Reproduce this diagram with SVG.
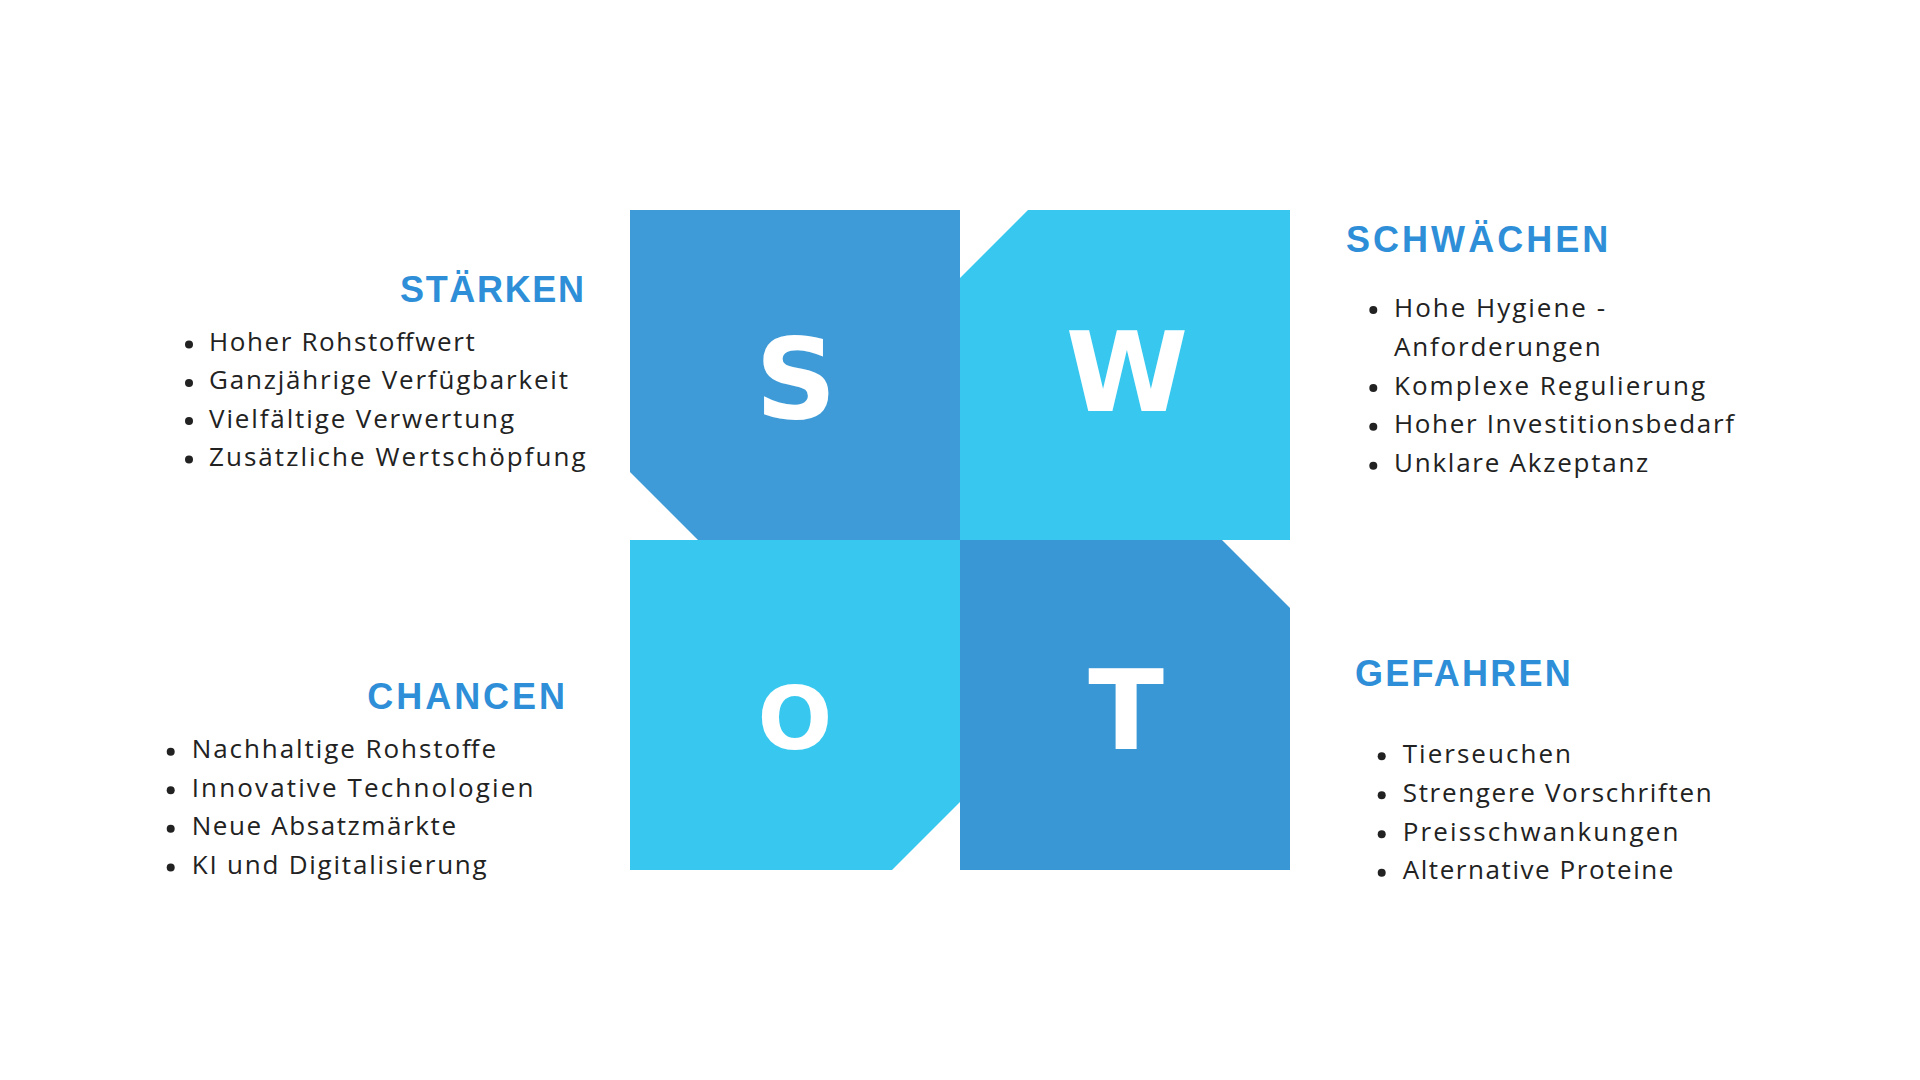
<svg xmlns="http://www.w3.org/2000/svg" width="1920" height="1080" viewBox="0 0 1920 1080">
<style>
.head{font-family:"Liberation Sans",Arial,sans-serif;font-weight:bold;font-size:36px;fill:#2E8FD8}
.item{font-family:"Open Sans","Liberation Sans",sans-serif;font-size:26px;fill:#222222}
.big{font-family:"DejaVu Sans","Liberation Sans",sans-serif;font-weight:bold;fill:#FFFFFF;text-anchor:middle}
.dot{fill:#222222}
.dark{fill:#3E9BD7}
.dark2{fill:#3A97D6}
.light{fill:#38C8EF}
</style>
<rect width="1920" height="1080" fill="#FFFFFF"/>
<g id="quadrants">
<g id="node-S">
<polygon class="dark" points="630,210 960,210 960,540 698,540 630,472"/>
<text class="big" x="796" y="418" font-size="113">S</text>
</g>
<g id="node-W">
<polygon class="light" points="1028,210 1290,210 1290,540 960,540 960,278"/>
<text class="big" x="1127" y="411" font-size="111">W</text>
</g>
<g id="node-O">
<polygon class="light" points="630,540 960,540 960,802 892,870 630,870"/>
<text class="big" x="795" y="749" font-size="88">O</text>
</g>
<g id="node-T">
<polygon class="dark2" points="960,540 1222,540 1290,608 1290,870 960,870"/>
<text class="big" x="1126" y="749" font-size="111">T</text>
</g>
</g>
<g id="connectors"></g>
<g id="node-staerken">
<text class="head" x="400" y="301.5" textLength="184">STÄRKEN</text>
<circle class="dot" cx="189" cy="344.5" r="4"/>
<circle class="dot" cx="189" cy="383" r="4"/>
<circle class="dot" cx="189" cy="421" r="4"/>
<circle class="dot" cx="189" cy="459.5" r="4"/>
<text class="item" x="209" y="351" textLength="265.7">Hoher Rohstoffwert</text>
<text class="item" x="209" y="389.3" textLength="359">Ganzjährige Verfügbarkeit</text>
<text class="item" x="209" y="427.5" textLength="305">Vielfältige Verwertung</text>
<text class="item" x="209" y="466" textLength="376.7">Zusätzliche Wertschöpfung</text>
</g>
<g id="node-schwaechen">
<text class="head" x="1346" y="252.3" textLength="262.3">SCHWÄCHEN</text>
<circle class="dot" cx="1373.3" cy="310" r="4"/>
<circle class="dot" cx="1373.3" cy="388" r="4"/>
<circle class="dot" cx="1373.3" cy="426.8" r="4"/>
<circle class="dot" cx="1373.3" cy="465.8" r="4"/>
<text class="item" x="1394" y="316.7" textLength="211">Hohe Hygiene -</text>
<text class="item" x="1394" y="355.7" textLength="206.7">Anforderungen</text>
<text class="item" x="1394" y="394.7" textLength="311">Komplexe Regulierung</text>
<text class="item" x="1394" y="433.3" textLength="340">Hoher Investitionsbedarf</text>
<text class="item" x="1394" y="472.3" textLength="254.3">Unklare Akzeptanz</text>
</g>
<g id="node-chancen">
<text class="head" x="367.3" y="709.3" textLength="197.7">CHANCEN</text>
<circle class="dot" cx="170.7" cy="751.8" r="4"/>
<circle class="dot" cx="170.7" cy="790.2" r="4"/>
<circle class="dot" cx="170.7" cy="828.8" r="4"/>
<circle class="dot" cx="170.7" cy="867.5" r="4"/>
<text class="item" x="191.7" y="758.3" textLength="304.3">Nachhaltige Rohstoffe</text>
<text class="item" x="191.7" y="796.7" textLength="341.7">Innovative Technologien</text>
<text class="item" x="191.7" y="835.3" textLength="264.3">Neue Absatzmärkte</text>
<text class="item" x="191.7" y="874" textLength="295">KI und Digitalisierung</text>
</g>
<g id="node-gefahren">
<text class="head" x="1355" y="685.7" textLength="215.7">GEFAHREN</text>
<circle class="dot" cx="1381.7" cy="756.2" r="4"/>
<circle class="dot" cx="1381.7" cy="795.2" r="4"/>
<circle class="dot" cx="1381.7" cy="834.2" r="4"/>
<circle class="dot" cx="1381.7" cy="872.8" r="4"/>
<text class="item" x="1402.7" y="762.7" textLength="168.3">Tierseuchen</text>
<text class="item" x="1402.7" y="801.7" textLength="309">Strengere Vorschriften</text>
<text class="item" x="1402.7" y="840.7" textLength="275.7">Preisschwankungen</text>
<text class="item" x="1402.7" y="879.3" textLength="270.7">Alternative Proteine</text>
</g>
</svg>
